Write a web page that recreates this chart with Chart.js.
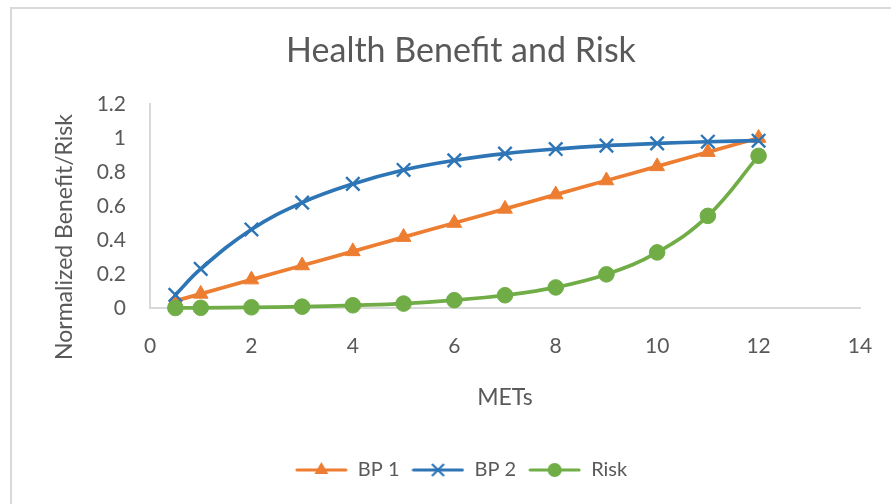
<!DOCTYPE html>
<html><head><meta charset="utf-8">
<script src="https://cdn.jsdelivr.net/npm/chart.js@4/dist/chart.umd.min.js"></script>
<style>
html,body{margin:0;padding:0;background:#fff;}
#wrap{position:relative;width:891px;height:504px;overflow:hidden;background:#fff;}
#frame{position:absolute;left:10px;top:7px;width:900px;height:520px;border:2px solid #d9d9d9;box-sizing:border-box;}
canvas{position:absolute;left:0;top:0;}
</style></head><body>
<div id="wrap"><div id="frame"></div><canvas id="c" width="891" height="504"></canvas></div>
<script>
const chartTitle = 'Health Benefit and Risk';
const xAxisTitle = 'METs';
const yAxisTitle = 'Normalized Benefit/Risk';
const seriesNames = ['BP 1', 'BP 2', 'Risk'];
const mets = [0.5, 1, 2, 3, 4, 5, 6, 7, 8, 9, 10, 11, 12];
const bp1 = [0.042, 0.083, 0.167, 0.25, 0.333, 0.417, 0.5, 0.583, 0.667, 0.75, 0.833, 0.917, 1.0];
const bp2 = [0.077, 0.23, 0.462, 0.62, 0.73, 0.812, 0.868, 0.908, 0.935, 0.955, 0.968, 0.978, 0.984];
const risk = [0.0, 0.001, 0.004, 0.008, 0.016, 0.026, 0.046, 0.075, 0.121, 0.198, 0.327, 0.542, 0.895];
const xTicks = [0, 2, 4, 6, 8, 10, 12, 14];
const xTickLabels = ['0', '2', '4', '6', '8', '10', '12', '14'];
const yTicks = [0, 0.2, 0.4, 0.6, 0.8, 1, 1.2];
const yTickLabels = ['0', '0.2', '0.4', '0.6', '0.8', '1', '1.2'];

const colors = ['#ED7D31', '#2E75B6', '#70AD47'];
const styles = ['triangle', 'crossRot', 'circle'];
const FONT = 'Lato';
const TEXT = '#595959';

function pts(ys) { return mets.map((x, i) => ({x: x, y: ys[i]})); }

function legendIcon(idx) {
  const c = document.createElement('canvas');
  c.width = 53; c.height = 18;
  const g = c.getContext('2d');
  const col = colors[idx];
  g.strokeStyle = col; g.lineWidth = 3; g.lineCap = 'round';
  g.beginPath(); g.moveTo(2, 9); g.lineTo(51, 9); g.stroke();
  g.fillStyle = col;
  const cx = 26.5, cy = 9;
  if (idx === 0) {
    const r = 8;
    g.beginPath();
    g.moveTo(cx, cy - r);
    g.lineTo(cx + r * 0.866, cy + r / 2);
    g.lineTo(cx - r * 0.866, cy + r / 2);
    g.closePath(); g.fill();
  } else if (idx === 1) {
    const d = 6;
    g.lineWidth = 2.2; g.lineCap = 'butt';
    g.beginPath();
    g.moveTo(cx - d, cy - d); g.lineTo(cx + d, cy + d);
    g.moveTo(cx + d, cy - d); g.lineTo(cx - d, cy + d);
    g.stroke();
  } else {
    g.beginPath(); g.arc(cx, cy, 7, 0, Math.PI * 2); g.fill();
  }
  return c;
}

const yTitlePlugin = {
  id: 'yTitle',
  afterDraw(chart) {
    const {ctx, chartArea} = chart;
    ctx.save();
    ctx.translate(65, (chartArea.top + chartArea.bottom) / 2 + 31);
    ctx.rotate(-Math.PI / 2);
    ctx.font = '23px ' + FONT;
    ctx.fillStyle = TEXT;
    ctx.textAlign = 'center';
    ctx.textBaseline = 'middle';
    ctx.fillText(yAxisTitle, 0, 0);
    ctx.restore();
  }
};

function draw() {
  const icons = [legendIcon(0), legendIcon(1), legendIcon(2)];
  const series = [bp1, bp2, risk];
  const datasets = series.map((s, i) => ({
    label: seriesNames[i],
    data: pts(s),
    showLine: true,
    tension: 0.4,
    borderColor: colors[i],
    backgroundColor: colors[i],
    borderWidth: 3.7,
    pointStyle: styles[i],
    pointRadius: i === 1 ? 9.5 : (i === 0 ? 8.5 : 7.8),
    pointBorderWidth: i === 1 ? 2.4 : 1,
    pointBackgroundColor: colors[i],
    pointBorderColor: colors[i],
    order: 3 - i,
    clip: false
  }));

  new Chart(document.getElementById('c'), {
    type: 'scatter',
    data: {datasets: datasets},
    options: {
      responsive: false,
      animation: false,
      events: [],
      layout: {padding: {left: 62, right: 31, top: 0, bottom: 14}},
      scales: {
        x: {
          type: 'linear', min: 0, max: 14,
          afterBuildTicks: (sc) => { sc.ticks = xTicks.map(v => ({value: v})); },
          afterFit: (sc) => { sc.height = 140; sc.paddingLeft = 0; sc.paddingRight = 0; },
          grid: {display: false, drawTicks: false},
          border: {display: true, color: '#d9d9d9', width: 2},
          ticks: {
            padding: 26, color: TEXT, font: {family: FONT, size: 21},
            callback: (v, i) => xTickLabels[i]
          },
          title: {display: true, text: xAxisTitle, color: TEXT, font: {family: FONT, size: 23}, padding: {top: 0, bottom: 37}}
        },
        y: {
          type: 'linear', min: 0, max: 1.2,
          afterBuildTicks: (sc) => { sc.ticks = yTicks.map(v => ({value: v})); },
          afterFit: (sc) => { sc.width = 88; },
          grid: {display: false, drawTicks: false},
          border: {display: true, color: '#d9d9d9', width: 2},
          ticks: {
            padding: 24, color: TEXT, font: {family: FONT, size: 21},
            callback: (v, i) => yTickLabels[i]
          }
        }
      },
      plugins: {
        title: {display: true, text: chartTitle, color: TEXT, font: {family: FONT, size: 34, weight: 'normal'}, padding: {top: 31, bottom: 32.2}},
        legend: {
          display: true, position: 'bottom',
          labels: {
            usePointStyle: true, pointStyleWidth: 53, boxHeight: 18,
            padding: 12, color: TEXT, font: {family: FONT, size: 20},
            generateLabels: (chart) => chart.data.datasets.map((ds, i) => ({
              text: ds.label, pointStyle: icons[i], datasetIndex: i, hidden: false,
              fontColor: TEXT, lineWidth: 0, strokeStyle: 'rgba(0,0,0,0)', fillStyle: 'rgba(0,0,0,0)'
            }))
          }
        },
        tooltip: {enabled: false}
      }
    },
    plugins: [yTitlePlugin]
  });
}

if (document.fonts && document.fonts.load) {
  Promise.all([document.fonts.load('20px ' + FONT)]).then(draw, draw);
} else { draw(); }
</script>
</body></html>
